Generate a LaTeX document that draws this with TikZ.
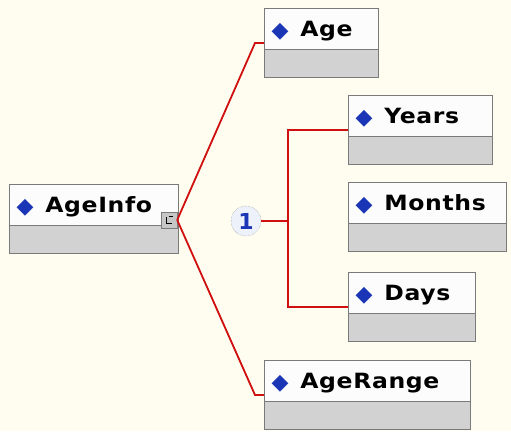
\documentclass[tikz,border=0pt]{standalone}
\usepackage{fontspec}
\usetikzlibrary{shapes.multipart}
\newfontfamily\boxfont[FakeStretch=1.12, LetterSpace=3]{DejaVu Sans}
\newfontfamily\symfont{DejaVu Sans}
\definecolor{paper}{HTML}{FEFDEF}
\definecolor{boxtop}{HTML}{FCFCFC}
\definecolor{bandgray}{HTML}{D2D2D2}
\definecolor{boxgray}{HTML}{7A7A7A}
\definecolor{linkred}{HTML}{D01010}
\definecolor{diablue}{HTML}{1A35B5}
\definecolor{choicefill}{HTML}{EDF1FA}
\newcommand\dia{{\symfont\fontsize{22}{22}\selectfont\color{diablue}\raisebox{-1pt}{◆}}\hspace{12pt}}
\tikzset{
  elem/.style={rectangle split, rectangle split parts=2,
    rectangle split part align={left},
    rectangle split part fill={boxtop,bandgray},
    rectangle split empty part height=15pt,
    draw=boxgray, line width=1pt, anchor=north west,
    inner xsep=7pt, inner ysep=6pt,
    font=\boxfont\bfseries\fontsize{21}{25}\selectfont,
    execute at begin node=\rule[-7pt]{0pt}{28pt}},
  expbox/.style={draw=boxgray, fill=gray!45, minimum size=16pt, inner sep=0pt},
  choice/.style={circle, draw=gray, densely dotted, fill=choicefill,
    minimum size=30pt, inner sep=0pt, text=diablue,
    font=\symfont\bfseries\fontsize{22}{22}\selectfont},
  link/.style={draw=linkred, line width=1.8pt}
}
\begin{document}
\begin{tikzpicture}[x=1pt, y=-1pt]
  \useasboundingbox (0,0) rectangle (511,431);
  \clip (0,0) rectangle (511,431);
  \fill[paper] (0,0) rectangle (511,431);

  % element boxes
  \node[elem, minimum width=169pt] (ageinfo) at (9,184) {\dia AgeInfo};
  \node[elem, minimum width=114pt] (age) at (264,8) {\dia Age};
  \node[elem, minimum width=144pt] (years) at (348,95) {\dia Years};
  \node[elem, minimum width=158pt] (months) at (348,182) {\dia Months};
  \node[elem, minimum width=127pt] (days) at (348,272) {\dia Days};
  \node[elem, minimum width=206pt] (agerange) at (264,360) {\dia AgeRange};

  % expand button and compositor
  \node[expbox] (ageinfoexp) at (169,220) {};
  \draw[black, line width=0.6pt] ([shift={(-3,-3)}]ageinfoexp.center) -- ++(0,6) -- ++(6,0)
    ([shift={(0,-4)}]ageinfoexp.center) -- ++(4,0);
  \node[choice] (one) at (246,221) {1};

  % connectors
  \draw[link] (ageinfoexp.east) -- ([xshift=-9pt]age.west) -- (age.west);
  \draw[link] (ageinfoexp.east) -- ([xshift=-9pt]agerange.west) -- (agerange.west);
  \draw[link] (one.east) -- ++(26.5,0) coordinate (bus);
  \draw[link] (years.west) -| (bus) |- (days.west);
\end{tikzpicture}
\end{document}
